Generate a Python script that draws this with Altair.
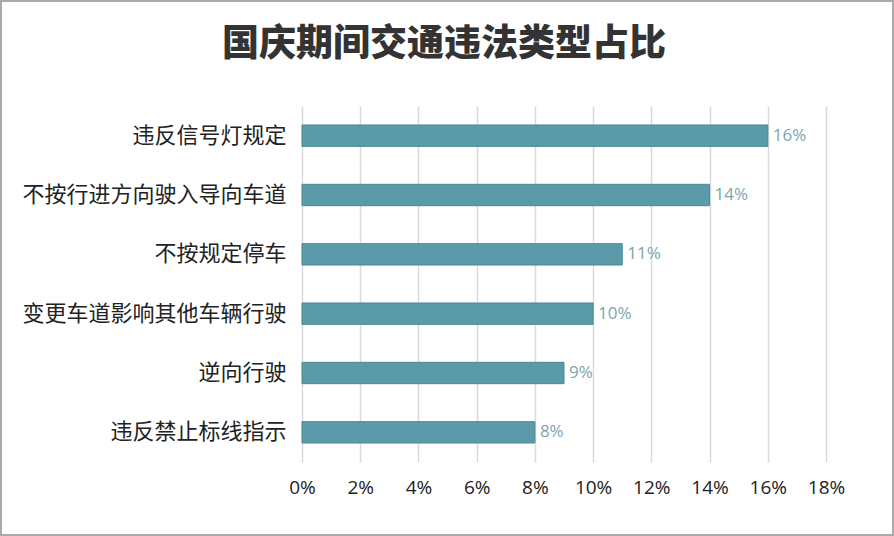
import altair as alt
import pandas as pd

categories = ["违反信号灯规定", "不按行进方向驶入导向车道", "不按规定停车",
              "变更车道影响其他车辆行驶", "逆向行驶", "违反禁止标线指示"]
values = [0.16, 0.14, 0.11, 0.10, 0.09, 0.08]
labels = ["16%", "14%", "11%", "10%", "9%", "8%"]
x_ticks = [0, 0.02, 0.04, 0.06, 0.08, 0.10, 0.12, 0.14, 0.16, 0.18]
title_text = "国庆期间交通违法类型占比"

df = pd.DataFrame({"cat": categories, "val": values, "lab": labels})

W, H = 524, 356
PL, PT = 302, 106

x = alt.X("val:Q", scale=alt.Scale(domain=[0, 0.18], nice=False),
          axis=alt.Axis(values=x_ticks, format=".0%", title=None, domain=False, ticks=False,
                        grid=True, gridColor="#d9d9d9", gridWidth=1.5, labelFlush=False,
                        labelFont="Open Sans", labelFontSize=19, labelColor="#222222",
                        labelPadding=16))
y = alt.Y("cat:N", sort=categories, scale=alt.Scale(paddingInner=0.64, paddingOuter=0.32),
          axis=alt.Axis(title=None, domain=False, ticks=False, labelFont="Noto Sans CJK SC",
                        labelFontSize=22, labelColor="#222222", labelPadding=16,
                        labelLimit=400))

bars = alt.Chart(df).mark_bar(color="#5b9aa8", stroke="#4a8794", strokeWidth=1).encode(x=x, y=y)
text = alt.Chart(df).mark_text(align="left", baseline="middle", dx=5, fontSize=17,
                               font="Open Sans", color="#7aa6ad").encode(
    x="val:Q", y=alt.Y("cat:N", sort=categories), text="lab:N")
border = alt.Chart(df).mark_rect(fill=None, stroke="#aaaaaa", strokeWidth=2).encode(
    x=alt.value(-PL + 1), x2=alt.value(894 - PL - 1),
    y=alt.value(-PT + 1), y2=alt.value(536 - PT - 1))
title = alt.Chart(pd.DataFrame({"t": [title_text]})).mark_text(
    font="Noto Sans CJK SC", fontSize=37, fontWeight=900, color="#333333",
    align="center", baseline="middle").encode(
    x=alt.value(444 - PL), y=alt.value(45 - PT), text="t:N")

chart = alt.layer(bars, text, border, title).properties(
    width=W, height=H,
    autosize=alt.AutoSizeParams(type="none"),
    padding={"left": PL, "top": PT, "right": 894 - PL - W, "bottom": 536 - PT - H},
    background="white",
).configure_view(stroke=None)

chart.save("out.html", embed_options={"renderer": "svg", "actions": False})
